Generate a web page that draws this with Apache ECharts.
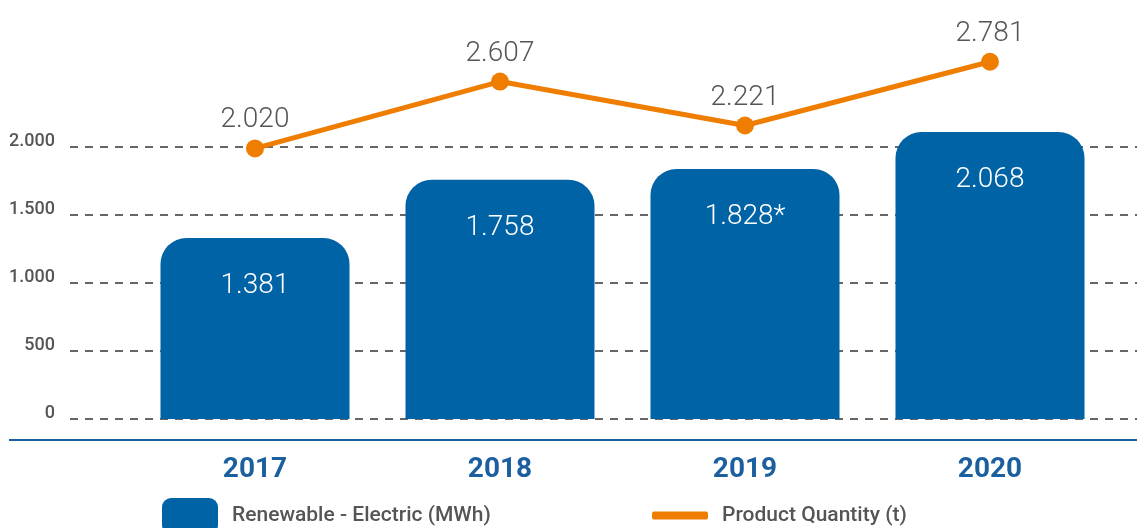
<!DOCTYPE html>
<html>
<head>
<meta charset="utf-8">
<script src="https://cdn.jsdelivr.net/npm/echarts@6/dist/echarts.min.js"></script>
<style>
	html, body { margin: 0; padding: 0; background: #fff; }
	#chart { width: 1137px; height: 528px; }
</style>
</head>
<body>
<div id="chart"></div>
<script>
	// data
	var years = ['2017', '2018', '2019', '2020'];
	var renewableElectric = [1381, 1758, 1828, 2068];
	var renewableNotes = ['', '', '*', ''];
	var productQuantity = [2020, 2607, 2221, 2781];
	var leftTicks = [0, 500, 1000, 1500, 2000];

	var barName = 'Renewable - Electric (MWh)';
	var lineName = 'Product Quantity (t)';

	var blue = '#0063a6';
	var orange = '#ef7d00';
	var grey = '#555555';

	// 1.381 style numbers
	function fmt(v) {
		return String(v).replace(/\B(?=(\d{3})+(?!\d))/g, '.');
	}

	var myChart = echarts.init(document.getElementById('chart'));

	var option = {
		animation: false,
		textStyle: { fontFamily: 'Roboto' },
		grid: [
			// dashed guide lines + left labels
			{ left: 70, right: 0, top: 147, bottom: 109 },
			// bars and line
			{ left: 132.5, right: 24.5, top: 100, bottom: 109 }
		],
		xAxis: [
			{ gridIndex: 0, type: 'value', show: false },
			{
				gridIndex: 1,
				type: 'category',
				data: years,
				axisLine: { show: false },
				axisTick: { show: false },
				axisLabel: {
					margin: 37,
					color: '#1c5f9f',
					fontSize: 28,
					fontWeight: 'bold'
				}
			}
		],
		yAxis: [
			{
				gridIndex: 0,
				type: 'value',
				min: leftTicks[0],
				max: leftTicks[leftTicks.length - 1],
				interval: 500,
				axisLine: { show: false },
				axisTick: { show: false },
				axisLabel: {
					margin: 15,
					color: grey,
					fontSize: 18,
					fontWeight: 500,
					verticalAlign: 'bottom',
					lineHeight: 12,
					formatter: function (v) { return fmt(v); }
				},
				splitLine: {
					lineStyle: { color: '#666', width: 2, type: [8, 7] }
				}
			},
			// hidden scale for the bars
			{ gridIndex: 1, type: 'value', min: 208, max: 2275, show: false, splitLine: { show: false } },
			// hidden scale for the line
			{ gridIndex: 1, type: 'value', min: -357, max: 2445, show: false, splitLine: { show: false } }
		],
		legend: [
			{
				left: 162,
				top: 498,
				padding: 0,
				itemWidth: 56,
				itemHeight: 36,
				data: [{ name: barName, icon: 'roundRect' }],
				textStyle: { color: grey, fontSize: 21, fontWeight: 500, padding: [0, 0, 0, 9] }
			},
			{
				left: 652,
				top: 505,
				padding: 0,
				itemWidth: 56,
				itemHeight: 8,
				data: [{ name: lineName, icon: 'roundRect' }],
				textStyle: { color: grey, fontSize: 21, fontWeight: 500, padding: [9, 0, 0, 9] }
			}
		],
		graphic: [{
			type: 'line',
			shape: { x1: 9, y1: 440, x2: 1137, y2: 440 },
			style: { stroke: '#1c5f9f', lineWidth: 2 },
			silent: true
		}],
		series: [
			{
				name: barName,
				type: 'bar',
				xAxisIndex: 1,
				yAxisIndex: 1,
				data: renewableElectric,
				barWidth: 189,
				clip: true,
				itemStyle: { color: blue, borderRadius: [26, 26, 0, 0] },
				label: {
					show: true,
					position: 'insideTop',
					distance: 34,
					color: '#fff',
					fontSize: 28,
					fontWeight: 300,
					formatter: function (p) { return fmt(p.value) + renewableNotes[p.dataIndex]; }
				}
			},
			{
				name: lineName,
				type: 'line',
				xAxisIndex: 1,
				yAxisIndex: 2,
				data: productQuantity,
				clip: false,
				symbol: 'circle',
				symbolSize: 18,
				lineStyle: { color: orange, width: 5 },
				itemStyle: { color: orange },
				label: {
					show: true,
					position: 'top',
					distance: 5,
					color: grey,
					fontSize: 28,
					fontWeight: 300,
					formatter: function (p) { return fmt(p.value); }
				},
				z: 5
			}
		]
	};

	myChart.setOption(option);
</script>
</body>
</html>
